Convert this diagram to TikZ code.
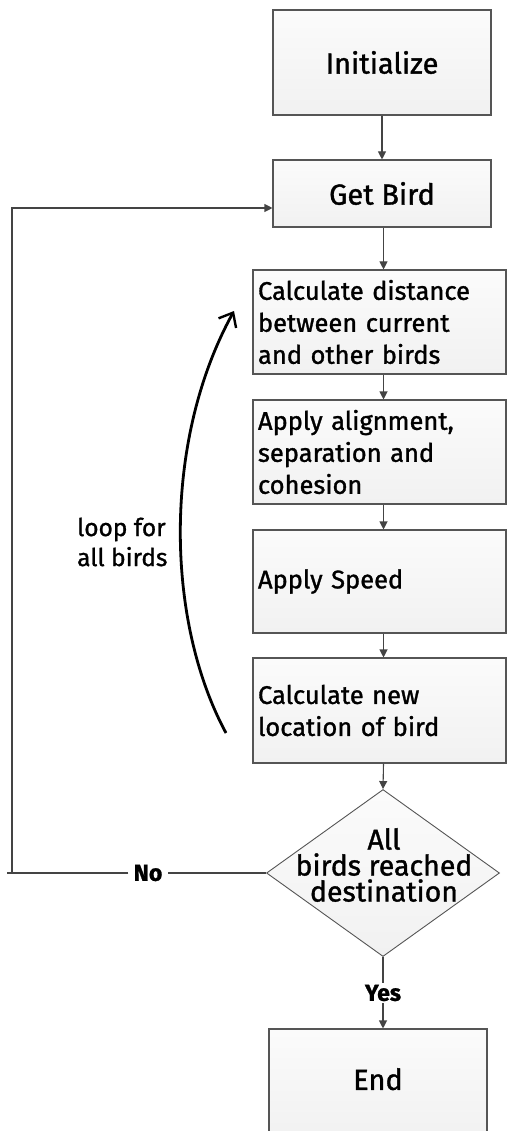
\documentclass[tikz,border=0pt]{standalone}
\usepackage{fontspec}
\setmainfont{Fira Sans}[FakeBold=1.2]
\newfontfamily\medfont{Fira Sans}[FakeBold=1.2,UprightFeatures={FakeBold=1.2}]
\usetikzlibrary{arrows.meta,shapes.geometric,calc}
\definecolor{edge}{HTML}{555555}
\definecolor{arrowc}{HTML}{444444}
\begin{document}
\begin{tikzpicture}[x=1pt,y=-1pt,
  box/.style={draw=edge,line width=1.1pt,top color=gray!3,bottom color=gray!11,
    inner sep=0pt,font=\medfont\fontsize{25.5}{32}\selectfont},
  cbox/.style={box,align=center,font=\medfont\fontsize{29}{32}\selectfont},
  lbox/.style={box,align=left,text width=243pt},
  dia/.style={diamond,draw=edge,line width=0.9pt,top color=gray!3,bottom color=gray!11,
    inner sep=0pt},
  diatext/.style={align=center,inner sep=0pt,font=\medfont\fontsize{28.5}{26}\selectfont},
  arr/.style={draw=arrowc,line width=1.1pt,-{Triangle[length=8pt,width=8pt]}},
  ln/.style={draw=arrowc,line width=1.1pt},
  lbl/.style={font=\bfseries\fontsize{23}{22}\selectfont,inner sep=2pt}]
\useasboundingbox (0,0) rectangle (507,1131);
\begin{scope}
\clip (0,0) rectangle (507,1131);
\node[cbox,minimum width=218pt,minimum height=105pt] (init) at (382,62.5) {Initialize};
\node[cbox,minimum width=218pt,minimum height=67pt] (get) at (382,193.5) {Get Bird};
\node[lbox,minimum width=253pt,minimum height=104pt] (calc) at (379.5,322) {Calculate distance\\between current\\and other birds};
\node[lbox,minimum width=253pt,minimum height=104pt] (align) at (379.5,452) {Apply alignment,\\separation and\\cohesion};
\node[lbox,minimum width=253pt,minimum height=103pt] (speed) at (379.5,581.5) {Apply Speed};
\node[lbox,minimum width=253pt,minimum height=105pt] (loc) at (379.5,710.5) {Calculate new\\location of bird};
\node[dia,minimum width=233pt,minimum height=167pt] (dec) at (383,873) {};
\node[diatext] (dectext) at (384,865) {All\\birds reached\\destination};
\node[cbox,minimum width=218pt,minimum height=110pt,text depth=0pt] (end) at (378,1084) {\raisebox{10pt}{End}};
\end{scope}
\coordinate (ax) at (383.5,0);
\draw[arr] (init.south) -- (get.north);
\draw[arr] (get.south -| ax) -- (ax |- calc.north);
\draw[arr] (calc.south -| ax) -- (ax |- align.north);
\draw[arr] (align.south -| ax) -- (ax |- speed.north);
\draw[arr] (speed.south -| ax) -- (ax |- loc.north);
\draw[arr] (loc.south -| ax) -- (dec.north);
% Yes branch
\node[lbl] (yes) at (383,993) {Yes};
\draw[ln] (dec.south) -- (yes.north);
\draw[arr] (yes.south) -- (yes.south |- end.north);
% No branch
\node[lbl,inner sep=5pt] (no) at (148,873) {No};
\coordinate (nl) at (7,873);
\coordinate (corner) at (12,873);
\coordinate (top) at (12,208);
\draw[ln] (dec.west) -- (no.east);
\draw[ln] (no.west) -- (nl);
\draw[arr] (corner) -- (top) -- (top -| get.west);
% loop annotation
\node[font=\medfont\fontsize{24.5}{30}\selectfont,align=left,anchor=west,inner sep=0pt] (loop) at (77,542) {loop for\\all birds};
\coordinate (ls) at (226,733);
\coordinate (le) at (234,311);
\draw[line width=2.8pt,-{Straight Barb[length=12pt,width=20pt,line width=2.4pt]}] (ls) .. controls (165,620) and (163,440) .. (le);
\end{tikzpicture}
\end{document}
